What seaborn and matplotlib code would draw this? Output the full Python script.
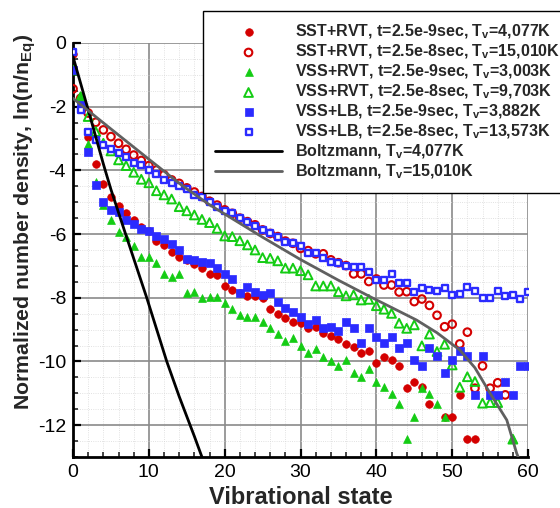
import numpy as np
import pandas as pd
import seaborn as sns
import matplotlib.pyplot as plt
from matplotlib.ticker import MultipleLocator

# SST+RVT, t=2.5e-9sec (filled red circles)
sst9_v = list(range(0, 48)) + [49, 50, 51, 52, 53]
sst9_y = [-0.36, -1.85, -2.96, -3.81, -4.43, -4.84, -5.11, -5.33, -5.55, -5.77,
          -5.90, -6.22, -6.34, -6.55, -6.71, -6.83, -6.94, -7.07, -7.25, -7.27,
          -7.63, -7.75, -7.84, -7.94, -7.93, -8.02, -8.34, -8.50, -8.65, -8.75,
          -8.80, -8.95, -8.91, -9.10, -9.20, -9.30, -9.45, -9.55, -9.72, -9.66,
          -10.04, -9.87, -9.95, -10.13, -10.84, -10.65, -10.81, -11.34,
          -11.75, -11.75, -11.05, -12.44, -12.44]

# SST+RVT, t=2.5e-8sec (open red circles)
sst8_v = list(range(0, 58))
sst8_y = [-1.44, -1.74, -2.20, -2.49, -2.73, -2.94, -3.15, -3.34, -3.52, -3.69,
          -3.85, -3.99, -4.14, -4.30, -4.41, -4.55, -4.68, -4.82, -4.97, -5.09,
          -5.24, -5.35, -5.50, -5.61, -5.71, -5.87, -5.98, -6.08, -6.22, -6.29,
          -6.45, -6.52, -6.62, -6.62, -6.81, -6.90, -6.99, -7.25, -7.25, -7.49,
          -7.41, -7.60, -7.60, -7.82, -7.81, -8.12, -8.04, -8.24, -8.55, -8.91,
          -8.83, -9.45, -9.08, -10.84, -10.14, -10.84, -10.67, -11.05]

# VSS+RVT, t=2.5e-9sec (filled green triangles)
vss9_v = list(range(0, 50)) + [58]
vss9_y = [-0.85, -1.65, -3.18, -4.37, -5.09, -5.56, -5.94, -6.08, -6.39, -6.71,
          -6.73, -6.92, -7.25, -7.36, -7.26, -7.86, -7.83, -8.00, -7.98, -7.99,
          -8.17, -8.34, -8.53, -8.60, -8.59, -8.75, -8.95, -9.15, -9.35, -9.25,
          -9.50, -9.75, -9.60, -9.85, -10.00, -10.15, -9.95, -10.35, -10.48, -10.23,
          -10.63, -10.81, -11.03, -11.33, -12.42, -11.73, -10.83, -11.03, -11.33, -11.73,
          -12.44]

# VSS+RVT, t=2.5e-8sec (open green triangles)
vss8_v = list(range(0, 57)) + [58]
vss8_y = [-0.85, -1.69, -2.31, -2.78, -3.15, -3.39, -3.67, -3.85, -4.06, -4.28,
          -4.39, -4.64, -4.77, -4.90, -5.14, -5.27, -5.40, -5.54, -5.64, -5.82,
          -6.06, -6.08, -6.21, -6.34, -6.50, -6.74, -6.76, -6.84, -7.07, -7.07,
          -7.15, -7.28, -7.63, -7.63, -7.63, -7.81, -7.94, -7.91, -8.07, -8.05,
          -8.25, -8.36, -8.49, -8.80, -8.96, -8.85, -9.51, -9.14, -9.69, -9.46,
          -10.11, -10.81, -10.48, -10.63, -11.31, -11.29, -11.29, -12.44]

# VSS+LB, t=2.5e-9sec (filled blue squares)
lb9_v = list(range(0, 61))
lb9_y = [-0.85, -1.95, -3.41, -4.45, -5.00, -5.24, -5.32, -5.56, -5.68, -5.84,
         -5.89, -6.06, -6.15, -6.32, -6.50, -6.78, -6.81, -6.87, -6.90, -7.05,
         -7.25, -7.41, -7.84, -7.65, -7.81, -7.91, -7.86, -8.12, -8.33, -8.44,
         -8.61, -8.82, -8.70, -8.96, -8.91, -9.05, -8.75, -8.96, -9.43, -8.96,
         -9.24, -9.43, -9.24, -9.57, -9.43, -9.95, -10.13, -9.57, -9.82, -10.35,
         -9.95, -9.67, -9.82, -11.04, -9.82, -11.04, -11.04, -10.66, -11.04, -10.13,
         -10.13]

# VSS+LB, t=2.5e-8sec (open blue squares)
lb8_v = list(range(0, 61))
lb8_y = [-0.27, -2.11, -2.79, -3.06, -3.20, -3.34, -3.44, -3.59, -3.76, -3.83,
         -3.99, -4.11, -4.30, -4.39, -4.49, -4.59, -4.77, -4.83, -5.00, -5.14,
         -5.27, -5.35, -5.50, -5.63, -5.74, -5.87, -5.98, -6.10, -6.24, -6.29,
         -6.37, -6.60, -6.58, -6.76, -6.87, -6.92, -6.99, -7.04, -7.03, -7.20,
         -7.44, -7.44, -7.25, -7.53, -7.53, -7.82, -7.70, -7.76, -7.78, -7.70,
         -7.91, -7.88, -7.67, -7.78, -8.02, -8.02, -7.78, -7.96, -7.91, -8.05,
         -7.81]

# Boltzmann curves
bz4_v = [0, 2, 4, 5, 7, 9.72, 12.36, 14, 16, 17]
bz4_y = [-0.43, -2.10, -3.80, -4.60, -6.05, -8.0, -10.0, -11.1, -12.35, -13.0]
bz15_v = [0, 5, 10, 14.3, 18, 25, 30, 35, 39.2, 45.3, 48, 51, 53, 55, 57.2, 58.5, 58.7]
bz15_y = [-1.74, -2.70, -3.65, -4.46, -5.08, -6.10, -6.80, -7.45, -7.97, -8.70,
          -9.10, -9.64, -10.2, -11.0, -11.84, -12.88, -13.0]

red = '#d40000'
green = '#14cc14'
blue = '#2b2bff'

sns.set_style('white')
plt.rcParams['font.family'] = ['Liberation Sans', 'DejaVu Sans']
plt.rcParams['mathtext.fontset'] = 'custom'
plt.rcParams['mathtext.rm'] = 'Liberation Sans:bold'
plt.rcParams['mathtext.it'] = 'Liberation Sans:bold'
plt.rcParams['mathtext.bf'] = 'Liberation Sans:bold'
plt.rcParams['axes.unicode_minus'] = False

fig = plt.figure(figsize=(5.6, 5.08), dpi=100)
ax = fig.add_axes([0.1304, 0.1004, 0.8125, 0.815])

lab = {
    'sst9': r'SST+RVT, t=2.5e-9sec, T$_\mathrm{v}$=4,077K',
    'sst8': r'SST+RVT, t=2.5e-8sec, T$_\mathrm{v}$=15,010K',
    'vss9': r'VSS+RVT, t=2.5e-9sec, T$_\mathrm{v}$=3,003K',
    'vss8': r'VSS+RVT, t=2.5e-8sec, T$_\mathrm{v}$=9,703K',
    'lb9': r'VSS+LB, t=2.5e-9sec, T$_\mathrm{v}$=3,882K',
    'lb8': r'VSS+LB, t=2.5e-8sec, T$_\mathrm{v}$=13,573K',
    'bz4': r'Boltzmann, T$_\mathrm{v}$=4,077K',
    'bz15': r'Boltzmann, T$_\mathrm{v}$=15,010K',
}

sns.scatterplot(x=sst9_v, y=sst9_y, marker='o', s=30, color=red, edgecolor=red,
                linewidth=0.5, label=lab['sst9'], ax=ax, zorder=3)
sns.scatterplot(x=sst8_v, y=sst8_y, marker='o', s=30, color=red, facecolor='none',
                edgecolor=red, linewidth=1.5, label=lab['sst8'], ax=ax, zorder=3)
sns.scatterplot(x=vss9_v, y=vss9_y, marker='^', s=32, color=green, edgecolor=green,
                linewidth=0.5, label=lab['vss9'], ax=ax, zorder=3)
sns.scatterplot(x=vss8_v, y=vss8_y, marker='^', s=40, color=green, facecolor='none',
                edgecolor=green, linewidth=1.4, label=lab['vss8'], ax=ax, zorder=3)
sns.scatterplot(x=lb9_v, y=lb9_y, marker='s', s=26, color=blue, edgecolor=blue,
                linewidth=0.5, label=lab['lb9'], ax=ax, zorder=3)
sns.scatterplot(x=lb8_v, y=lb8_y, marker='s', s=18, color=blue, facecolor='white',
                edgecolor=blue, linewidth=1.7, label=lab['lb8'], ax=ax, zorder=3)

sns.lineplot(x=bz4_v, y=bz4_y, color='black', linewidth=2.0, sort=False,
             estimator=None, label=lab['bz4'], ax=ax, zorder=4)
sns.lineplot(x=bz15_v, y=bz15_y, color='#606060', linewidth=2.0, sort=False,
             estimator=None, label=lab['bz15'], ax=ax, zorder=4)

ax.set_xlim(0, 60)
ax.set_ylim(-13, 0)
ax.xaxis.set_major_locator(MultipleLocator(10))
ax.xaxis.set_minor_locator(MultipleLocator(2))
ax.yaxis.set_major_locator(MultipleLocator(2))
ax.yaxis.set_minor_locator(MultipleLocator(0.5))
ax.grid(which='major', color='#8a8a8a', linewidth=1.2, zorder=0)
ax.grid(which='minor', color='#d8d8d8', linewidth=0.6, linestyle=':', zorder=0)
ax.set_axisbelow(True)

for s in ['top', 'right']:
    ax.spines[s].set_visible(False)
for s in ['left', 'bottom']:
    ax.spines[s].set_linewidth(2)
    ax.spines[s].set_color('black')

ax.tick_params(which='major', direction='in', length=6, width=1.6, labelsize=14,
               left=True, bottom=True, colors='black', pad=5)
ax.tick_params(which='minor', direction='in', length=3.5, width=1.2,
               left=True, bottom=True)

ax.set_xlabel('Vibrational state', fontsize=17, fontweight='bold', labelpad=4)
ax.set_ylabel(r'Normalized number density, ln(n/n$_\mathrm{Eq}$)', fontsize=15.3,
              fontweight='bold')
ax.yaxis.set_label_coords(-0.077, 0.568)

order = ['sst9', 'sst8', 'vss9', 'vss8', 'lb9', 'lb8', 'bz4', 'bz15']
h, l = ax.get_legend_handles_labels()
hd = dict(zip(l, h))
leg = ax.legend([hd[lab[k]] for k in order], [lab[k] for k in order],
                loc='upper left', bbox_to_anchor=(203 / 560, 1 - 11 / 508),
                bbox_transform=fig.transFigure, prop={'weight': 'bold', 'size': 11.5},
                handlelength=4.2, handletextpad=0.8, labelspacing=0.1,
                borderpad=0.75, borderaxespad=0, fancybox=False, framealpha=1,
                edgecolor='black')
leg.get_frame().set_linewidth(1.0)
leg.set_zorder(10)

fig.savefig('out.png', dpi=100)
